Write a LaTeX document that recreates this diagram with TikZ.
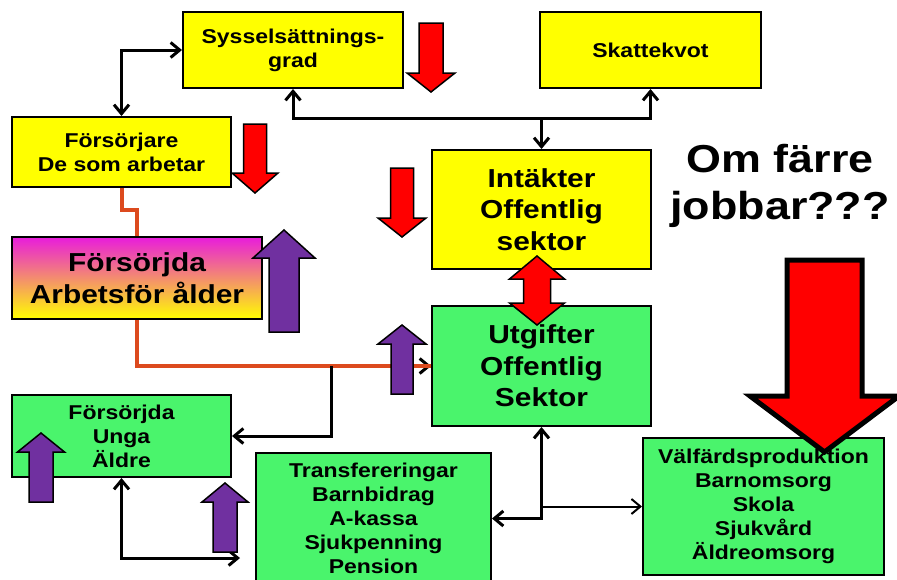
\documentclass[tikz,border=0pt]{standalone}
\usepackage{fontspec}
\setmainfont{Liberation Sans}[FakeStretch=1.15]
\usetikzlibrary{arrows.meta}

\definecolor{gul}{HTML}{FFFF00}
\definecolor{gron}{HTML}{4AF46C}
\definecolor{lila}{HTML}{7030A0}
\definecolor{rod}{HTML}{FF0000}
\definecolor{brand}{HTML}{DC4A1E}
\definecolor{magtop}{HTML}{E81CDC}
\definecolor{rosa}{HTML}{F2989E}

% block arrow: [style]{x}{half shaft}{half head}{tail y}{head base y}{tip y}
\newcommand{\blockpil}[7][]{%
  \draw[#1] (#2-#3,#5) -- (#2-#3,#6) -- (#2-#4,#6) -- (#2,#7)
    -- (#2+#4,#6) -- (#2+#3,#6) -- (#2+#3,#5) -- cycle;}

\begin{document}
\begin{tikzpicture}[%
    x=1pt, y=-1pt,
    box/.style={
      rectangle,
      draw=black,
      line width=2pt,
      align=center,
      inner sep=0pt,
      font=\fontsize{20}{24}\selectfont\bfseries
    },
    bigbox/.style={
      box,
      font=\fontsize{26}{31.5}\selectfont\bfseries
    },
    line/.style={
      draw,
      line width=3pt,
      -{Straight Barb[length=9pt,width=15pt]}
    },
    dbl/.style={
      line,
      {Straight Barb[length=9pt,width=15pt]}-{Straight Barb[length=9pt,width=15pt]}
    },
    orangeline/.style={
      draw=brand,
      line width=4pt
    },
    rodpil/.style={
      fill=rod,
      draw=black,
      line width=1.5pt,
      line join=miter
    },
    lilapil/.style={
      fill=lila,
      draw=black,
      line width=1.5pt,
      line join=miter
    }
  ]
  \useasboundingbox[fill=white] (0,0) rectangle (897,579);

  % boxes
  \node[box, fill=gul, minimum width=220pt, minimum height=76pt] (syssel) at (293,50)
    {Sysselsättnings-\\grad};
  \node[box, fill=gul, minimum width=221pt, minimum height=76pt] (skatt) at (650.5,50)
    {Skattekvot};
  \node[box, fill=gul, minimum width=219pt, minimum height=70pt] (forsorjare) at (121.5,152)
    {Försörjare\\De som arbetar};
  \node[bigbox, fill=gul, minimum width=219pt, minimum height=119pt] (intakter) at (541.5,209.5)
    {Intäkter\\Offentlig\\sektor};
  \node[bigbox, top color=magtop, middle color=rosa, bottom color=gul,
    minimum width=250pt, minimum height=82pt] (arbetsfor) at (137,278)
    {Försörjda\\Arbetsför ålder};
  \node[bigbox, fill=gron, minimum width=219pt, minimum height=120pt] (utgifter) at (541.5,366)
    {Utgifter\\Offentlig\\Sektor};
  \node[box, fill=gron, minimum width=219pt, minimum height=82pt] (unga) at (121.5,436)
    {Försörjda\\Unga\\Äldre};
  \node[box, fill=gron, minimum width=235pt, minimum height=131pt] (transfer) at (373.5,518.5)
    {Transfereringar\\Barnbidrag\\A-kassa\\Sjukpenning\\Pension};
  \node[box, fill=gron, minimum width=241pt, minimum height=137pt] (valfard) at (763.5,506.5)
    {Välfärdsproduktion\\Barnomsorg\\Skola\\Sjukvård\\Äldreomsorg};

  \node[align=center, font=\fontsize{39}{47}\selectfont\bfseries] (fraga) at (780,186)
    {Om färre\\jobbar???};

  % connectors
  \coordinate (knut1) at (541.5,118);
  \coordinate (knut2) at (331,366);
  \coordinate (knut3) at (541.5,506.5);
  \coordinate (tin) at (240,558);

  \draw[dbl] (syssel.west) -| (forsorjare.north);
  \draw[line] (knut1) -| (syssel.south);
  \draw[line] (knut1) -| (skatt.south);
  \draw[line] (knut1) -- (intakter.north);
  \draw[line] (knut2) -- (utgifter.west);
  \draw[orangeline] (forsorjare.south) -- ++(0,22) -| (arbetsfor.north);
  \draw[orangeline] (arbetsfor.south) |- (utgifter.west);
  \draw[line] (knut2) |- (unga.east);
  \draw[dbl] (unga.south) |- (tin);
  \draw[dbl] (utgifter.south) |- (transfer.east);
  \draw[line, line width=2pt] (knut3) -- (valfard.west);

  % block arrows
  \blockpil[rodpil]{431}{12}{24}{23}{73}{92}
  \blockpil[rodpil]{255}{11.5}{23}{124}{173}{193}
  \blockpil[rodpil]{402}{11.5}{24}{168}{218}{237}
  \draw[rodpil] (537,256) -- (564.5,279) -- (550.5,279) -- (550.5,303) -- (564.5,303)
    -- (537,325) -- (509.5,303) -- (523.5,303) -- (523.5,279) -- (509.5,279) -- cycle;
  \blockpil[rodpil, line width=5pt]{824.5}{37.5}{74.5}{260}{396}{452}
  \blockpil[lilapil]{284}{15}{31}{332}{258}{230}
  \blockpil[lilapil]{402}{11}{24}{394}{344}{325}
  \blockpil[lilapil]{41}{12}{23.5}{502}{452}{433}
  \blockpil[lilapil]{225}{12}{23}{552}{502}{483}
\end{tikzpicture}
\end{document}
